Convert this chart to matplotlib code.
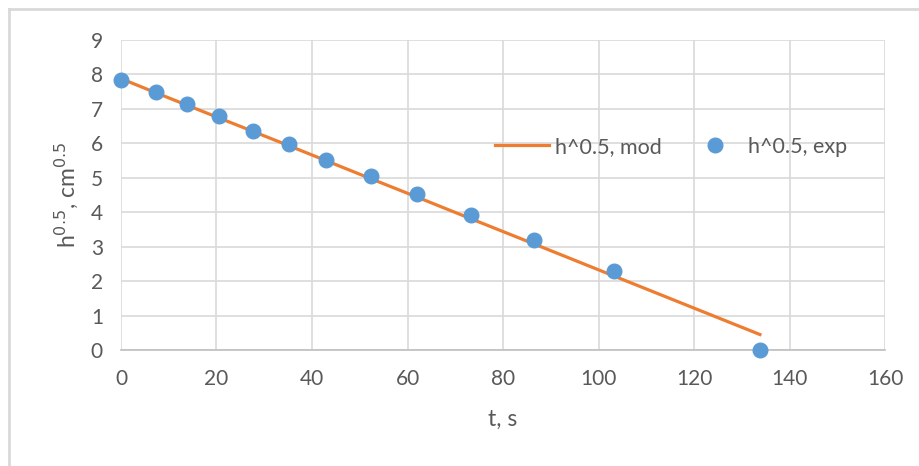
import matplotlib.pyplot as plt
from matplotlib.lines import Line2D

# readings from the chart
t_exp = [0, 7.3, 13.8, 20.5, 27.6, 35.2, 42.9, 52.4, 62.0, 73.3, 86.5, 103.2, 133.8]
h_exp = [7.84, 7.49, 7.14, 6.79, 6.36, 5.98, 5.52, 5.05, 4.53, 3.92, 3.19, 2.29, 0.0]
h_mod = [7.88, 7.47, 7.11, 6.74, 6.35, 5.93, 5.50, 4.97, 4.44, 3.81, 3.08, 2.15, 0.45]

x_ticks = [0, 20, 40, 60, 80, 100, 120, 140, 160]
y_ticks = [0, 1, 2, 3, 4, 5, 6, 7, 8, 9]

plt.rcParams['font.family'] = ['Lato', 'DejaVu Sans']

fig = plt.figure(figsize=(9.2, 4.66), dpi=100)
ax = fig.add_axes([0.1315, 0.2489, 0.8305, 0.6652])

grid_col = '#d9d9d9'
text_col = '#595959'

ax.plot(t_exp, h_mod, color='#ED7D31', lw=2.3, label='h^0.5, mod', clip_on=False, zorder=3)
ax.plot(t_exp, h_exp, 'o', color='#5B9BD5', ms=10.5, label='h^0.5, exp', clip_on=False, zorder=4)

ax.set_xlim(0, 160)
ax.set_ylim(0, 9)
ax.set_xticks(x_ticks)
ax.set_yticks(y_ticks)
ax.grid(True, color=grid_col, lw=1.2)
ax.set_axisbelow(True)
for s in ['top', 'right', 'left']:
    ax.spines[s].set_visible(False)
ax.spines['bottom'].set_color('#bfbfbf')
ax.spines['bottom'].set_linewidth(1.2)
ax.tick_params(length=0, labelsize=15, labelcolor=text_col)
ax.tick_params(axis='x', pad=14)
ax.tick_params(axis='y', pad=13)

ax.set_xlabel('t, s', fontsize=16.5, color=text_col, labelpad=14)
ax.set_ylabel('h$^{0.5}$, cm$^{0.5}$', fontsize=16.5, color=text_col, labelpad=8)

ax.legend(loc='center', bbox_to_anchor=(0.72, 0.655), ncol=2, frameon=False,
          fontsize=15.5, labelcolor=text_col, handlelength=2.5, handletextpad=0.3,
          columnspacing=1.2)

# outer chart frame (partially visible)
fig.add_artist(Line2D([9 / 920, 9 / 920], [0, 1 - 9 / 466], transform=fig.transFigure,
                      color=grid_col, lw=2))
fig.add_artist(Line2D([9 / 920, 1], [1 - 9 / 466, 1 - 9 / 466], transform=fig.transFigure,
                      color=grid_col, lw=2))

fig.savefig('out.png', dpi=100)
